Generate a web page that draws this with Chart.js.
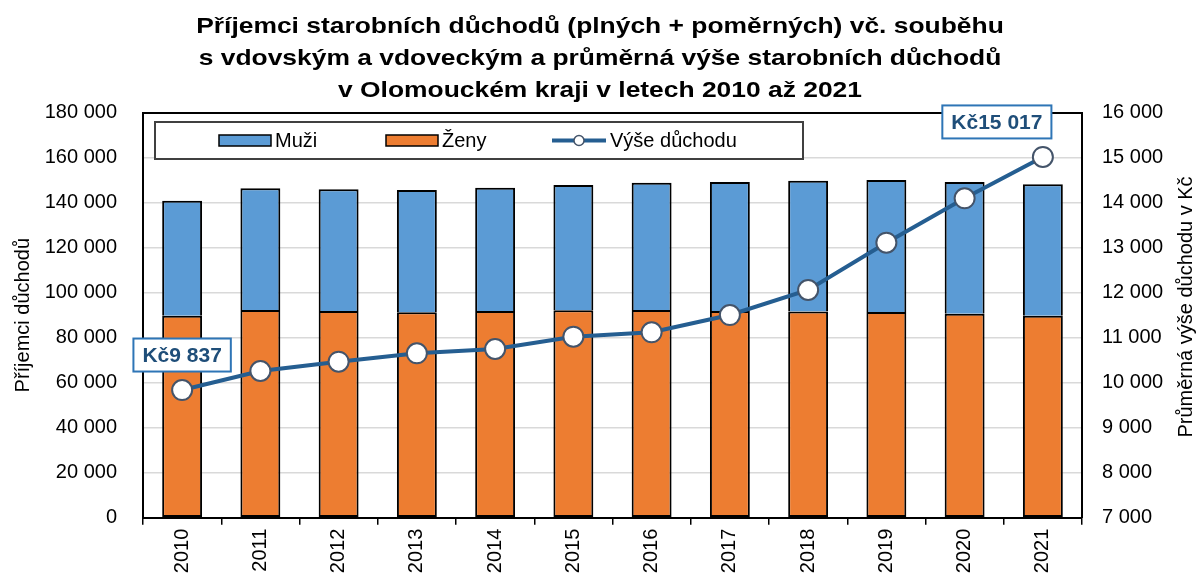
<!DOCTYPE html>
<html lang="cs">
<head>
<meta charset="utf-8">
<title>Příjemci starobních důchodů – Olomoucký kraj</title>
<script src="https://cdn.jsdelivr.net/npm/chart.js@4/dist/chart.umd.min.js"></script>
<style>
  html, body { margin: 0; padding: 0; background: #fff; }
  #wrap { width: 1198px; height: 578px; }
</style>
</head>
<body>
<div id="wrap"><canvas id="chart" width="1198" height="578"></canvas></div>
<script>
// --- data ---
const years = ['2010', '2011', '2012', '2013', '2014', '2015', '2016', '2017', '2018', '2019', '2020', '2021'];
const zeny = [89800, 92300, 91900, 91300, 91900, 92200, 92300, 91900, 91600, 91400, 90700, 89800];
const muzi = [51100, 54100, 54100, 54300, 54800, 55700, 56600, 57300, 58200, 58700, 58500, 58400];
const vyseDuchodu = [9837, 10260, 10467, 10653, 10749, 11022, 11120, 11504, 12060, 13111, 14098, 15017];
const titleLines = [
    'Příjemci starobních důchodů (plných + poměrných) vč. souběhu',
    's vdovským a vdoveckým a průměrná výše starobních důchodů',
    'v Olomouckém kraji v letech 2010 až 2021'
];
const leftTitle = 'Příjemci důchodů';
const rightTitle = 'Průměrná výše důchodu v Kč';
const labelledPoints = [0, 11];

const FONT = '"Liberation Sans", Arial, sans-serif';
const BLUE = '#5B9BD5';
const ORANGE = '#ED7D31';
const LINE = '#255E91';

function fmt(v) {
    return String(v).replace(/\B(?=(\d{3})+(?!\d))/g, ' ');
}

// the original title is set wide, so it is drawn here with a slight horizontal stretch
const wideTitle = {
    id: 'wideTitle',
    afterDraw(chart) {
        const ctx = chart.ctx;
        ctx.save();
        ctx.font = 'bold 22px ' + FONT;
        ctx.fillStyle = '#000';
        ctx.textAlign = 'center';
        ctx.textBaseline = 'alphabetic';
        titleLines.forEach((line, i) => {
            ctx.save();
            ctx.translate(600, 32.7 + i * 32);
            ctx.scale(1.2, 1);
            ctx.fillText(line, 0, 0);
            ctx.restore();
        });
        ctx.restore();
    }
};

// legend drawn inside the plot, boxed like the original
const boxLegend = {
    id: 'boxLegend',
    afterDraw(chart) {
        const ctx = chart.ctx;
        ctx.save();
        ctx.fillStyle = '#fff';
        ctx.fillRect(155, 122, 648, 37);
        ctx.strokeStyle = '#404040';
        ctx.lineWidth = 2;
        ctx.strokeRect(155, 122, 648, 37);
        ctx.font = '20px ' + FONT;
        ctx.textBaseline = 'middle';
        ctx.fillStyle = '#000';
        const cy = 140.5;
        const items = [
            { ds: chart.data.datasets[2], x: 219 },
            { ds: chart.data.datasets[1], x: 386 }
        ];
        items.forEach(it => {
            ctx.fillStyle = it.ds.backgroundColor;
            ctx.fillRect(it.x, cy - 5.5, 52, 11);
            ctx.strokeStyle = '#000';
            ctx.lineWidth = 1.5;
            ctx.strokeRect(it.x, cy - 5.5, 52, 11);
            ctx.fillStyle = '#000';
            ctx.fillText(it.ds.label, it.x + 56, cy + 1);
        });
        const ln = chart.data.datasets[0];
        ctx.strokeStyle = ln.borderColor;
        ctx.lineWidth = 4;
        ctx.beginPath();
        ctx.moveTo(552, cy);
        ctx.lineTo(606, cy);
        ctx.stroke();
        ctx.beginPath();
        ctx.arc(579, cy, 5, 0, Math.PI * 2);
        ctx.fillStyle = '#fff';
        ctx.fill();
        ctx.strokeStyle = ln.pointBorderColor;
        ctx.lineWidth = 1.5;
        ctx.stroke();
        ctx.fillStyle = '#000';
        ctx.fillText(ln.label, 610, cy + 1);

        // right axis title, reading bottom to top
        ctx.save();
        ctx.translate(1186, 307);
        ctx.rotate(-Math.PI / 2);
        ctx.textAlign = 'center';
        ctx.fillText(rightTitle, 0, 0);
        ctx.restore();
        ctx.restore();
    }
};

// boxed value labels at first and last point of the line
const pointLabels = {
    id: 'pointLabels',
    afterDatasetsDraw(chart) {
        const ctx = chart.ctx;
        const meta = chart.getDatasetMeta(0);
        ctx.save();
        ctx.font = 'bold 21px ' + FONT;
        ctx.textAlign = 'center';
        ctx.textBaseline = 'middle';
        labelledPoints.forEach(i => {
            const pt = meta.data[i];
            const text = 'Kč' + fmt(vyseDuchodu[i]);
            const w = ctx.measureText(text).width + 18;
            const h = 33;
            const cx = pt.x + (i === years.length - 1 ? -46 : 0);
            const cy = pt.y - 35;
            ctx.fillStyle = '#fff';
            ctx.fillRect(cx - w / 2, cy - h / 2, w, h);
            ctx.strokeStyle = '#2E75B6';
            ctx.lineWidth = 2;
            ctx.strokeRect(cx - w / 2, cy - h / 2, w, h);
            ctx.fillStyle = '#1F4E79';
            ctx.fillText(text, cx, cy + 1);
        });
        ctx.restore();
    }
};

new Chart(document.getElementById('chart'), {
    type: 'bar',
    data: {
        labels: years,
        datasets: [
            {
                type: 'line',
                label: 'Výše důchodu',
                data: vyseDuchodu,
                yAxisID: 'y1',
                order: 0,
                borderColor: LINE,
                borderWidth: 4,
                pointRadius: 10,
                pointBackgroundColor: '#fff',
                pointBorderColor: '#44546A',
                pointBorderWidth: 2,
                tension: 0
            },
            {
                label: 'Ženy',
                data: zeny,
                yAxisID: 'y',
                order: 1,
                backgroundColor: ORANGE,
                borderColor: '#000',
                borderWidth: 2,
                borderSkipped: false
            },
            {
                label: 'Muži',
                data: muzi,
                yAxisID: 'y',
                order: 1,
                backgroundColor: BLUE,
                borderColor: '#000',
                borderWidth: 2,
                borderSkipped: 'bottom'
            }
        ]
    },
    options: {
        responsive: false,
        animation: false,
        devicePixelRatio: 1,
        layout: { padding: { top: 112.7 } },
        datasets: { bar: { categoryPercentage: 1, barPercentage: 0.51 } },
        plugins: {
            legend: { display: false },
            tooltip: { enabled: false },
            title: { display: false }
        },
        scales: {
            x: {
                stacked: true,
                offset: true,
                grid: { offset: true, drawOnChartArea: false, drawTicks: true, tickLength: 7, color: '#000', lineWidth: 1.5 },
                border: { color: '#000', width: 2 },
                ticks: { minRotation: 90, maxRotation: 90, color: '#000', padding: 4, font: { family: FONT, size: 20 } },
                afterFit: s => { s.height = 60.3; }
            },
            y: {
                stacked: true,
                position: 'left',
                min: 0,
                max: 180000,
                grid: {
                    drawTicks: false,
                    color: c => (c.tick && c.tick.value === 180000 ? '#000' : '#D9D9D9'),
                    lineWidth: c => (c.tick && c.tick.value === 180000 ? 2 : 1.5)
                },
                border: { color: '#000', width: 2 },
                ticks: { stepSize: 20000, padding: 26, color: '#000', font: { family: FONT, size: 20 }, callback: v => fmt(v) },
                title: { display: true, text: leftTitle, color: '#000', font: { family: FONT, size: 20, lineHeight: 1.2 }, padding: { top: 11, bottom: 0 } },
                afterFit: s => { s.width = 143; }
            },
            y1: {
                position: 'right',
                min: 7000,
                max: 16000,
                grid: { drawOnChartArea: false, drawTicks: false },
                border: { color: '#000', width: 2 },
                ticks: { stepSize: 1000, padding: 20, color: '#000', font: { family: FONT, size: 20 }, callback: v => fmt(v) },
                afterFit: s => { s.width = 116; }
            }
        }
    },
    plugins: [pointLabels, boxLegend, wideTitle]
});
</script>
</body>
</html>
